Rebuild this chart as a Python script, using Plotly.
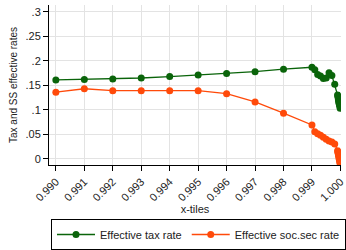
import plotly.graph_objects as go

x_tiles = [0.990, 0.991, 0.992, 0.993, 0.994, 0.995, 0.996, 0.997, 0.998, 0.999,
           0.9991, 0.9992, 0.9993, 0.9994, 0.9995, 0.9996, 0.9997, 0.9998, 0.9999,
           0.99991, 0.99992, 0.99993, 0.99994, 0.99995, 0.99996, 0.99997, 0.99998, 0.99999]

tax_rate = [0.161, 0.162, 0.163, 0.165, 0.168, 0.171, 0.174, 0.178, 0.183, 0.187,
            0.182, 0.172, 0.169, 0.164, 0.165, 0.176, 0.170, 0.152, 0.130,
            0.128, 0.124, 0.120, 0.117, 0.114, 0.112, 0.110, 0.107, 0.103]

socsec_rate = [0.136, 0.143, 0.139, 0.139, 0.139, 0.139, 0.133, 0.116, 0.093, 0.069,
               0.055, 0.051, 0.048, 0.044, 0.040, 0.036, 0.034, 0.030, 0.016,
               0.014, 0.011, 0.008, 0.005, 0.002, -0.001, -0.004, -0.007, -0.010]

x_tickvals = [0.990, 0.991, 0.992, 0.993, 0.994, 0.995, 0.996, 0.997, 0.998, 0.999, 1.000]
x_ticktext = ["0.990", "0.991", "0.992", "0.993", "0.994", "0.995", "0.996", "0.997", "0.998", "0.999", "1.000"]
y_tickvals = [0, 0.05, 0.1, 0.15, 0.2, 0.25, 0.3]
y_ticktext = ["0", ".05", ".1", ".15", ".2", ".25", ".3"]

GREEN = "#0a640a"
ORANGE = "#ff4a0a"
FONT = "Liberation Sans, Arial, sans-serif"

fig = go.Figure()
fig.add_trace(go.Scatter(x=x_tiles, y=tax_rate, mode="lines+markers",
                         name="Effective tax rate",
                         line=dict(color=GREEN, width=1.3),
                         marker=dict(color=GREEN, size=7)))
fig.add_trace(go.Scatter(x=x_tiles, y=socsec_rate, mode="lines+markers",
                         name="Effective soc.sec rate",
                         line=dict(color=ORANGE, width=1.3),
                         marker=dict(color=ORANGE, size=7)))

fig.update_layout(
    width=346, height=250,
    margin=dict(l=49, r=0, t=5, b=78),
    paper_bgcolor="white", plot_bgcolor="white",
    font=dict(family=FONT, color="#222", size=11),
    showlegend=True,
    legend=dict(orientation="h", x=0.0135, xanchor="left", y=-0.34, yanchor="top",
                bordercolor="black", borderwidth=1, font=dict(size=11, family=FONT, color="#222"),
                itemwidth=38, tracegroupgap=0),
    xaxis=dict(range=[0.989759, 1.00002], tickvals=x_tickvals, ticktext=x_ticktext,
               tickangle=-45, ticks="outside", ticklen=5, tickcolor="black",
               ticklabeloverflow="allow",
               showline=True, linecolor="black", linewidth=1, mirror=False,
               showgrid=True, gridcolor="#e3e3e3", gridwidth=1, zeroline=False,
               tickfont=dict(size=11, family=FONT, color="#222"),
               title=dict(text="x-tiles", font=dict(size=11, family=FONT, color="#222"), standoff=0)),
    yaxis=dict(range=[-0.0129, 0.3143], tickvals=y_tickvals, ticktext=y_ticktext,
               ticks="outside", ticklen=5, tickcolor="black",
               showline=True, linecolor="black", linewidth=1,
               showgrid=True, gridcolor="#e3e3e3", gridwidth=1, zeroline=False,
               tickfont=dict(size=11, family=FONT, color="#222"),
               title=dict(text="Tax and SS effective rates", font=dict(size=10, family=FONT, color="#222"), standoff=6)),
)

fig.write_html("out.html", config={"displayModeBar": False},
               post_script="document.body.style.margin='0';document.body.style.overflow='hidden';")
